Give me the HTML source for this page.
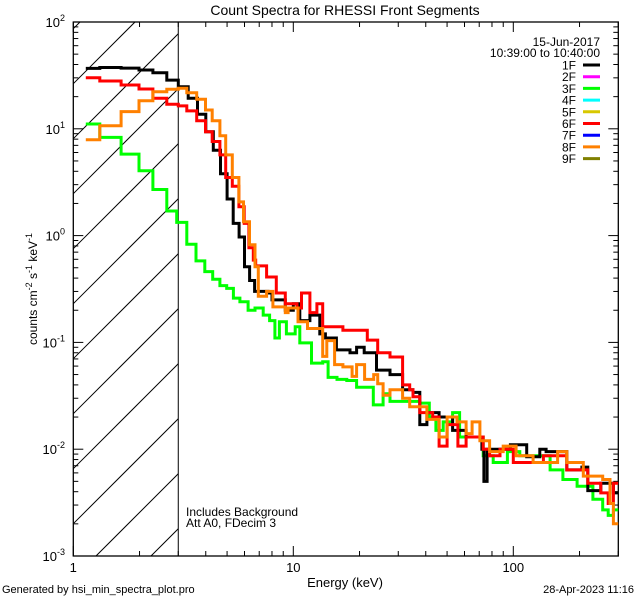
<!DOCTYPE html>
<html><head><meta charset="utf-8">
<style>
html,body{margin:0;padding:0;background:#fff;width:640px;height:600px;overflow:hidden;}
svg{display:block;font-family:"Liberation Sans",sans-serif;overflow:hidden;}
text{fill:#000;}
</style></head><body>
<svg id="chart" width="640" height="600" viewBox="0 0 640 600"></svg>
<script>
// ---- data ----
const energyTicks = [1, 10, 100];
const energyTickLabels = ["1", "10", "100"];
const countTickExps = [-3, -2, -1, 0, 1, 2];
const legendLabels = ["1F","2F","3F","4F","5F","6F","7F","8F","9F"];
const legendColors = ["#000000","#ff00ff","#00ff00","#00ffff","#d8c800","#ff0000","#0000ff","#ff8000","#808000"];
const energyMax = 300;

const e1F = [1.14,1.32,1.65,1.99,2.30,2.66,3.0,3.33,3.67,4.0,4.33,4.67,5.0,5.33,5.67,6.0,6.33,6.67,7.67,8.0,9.2,10,10.7,11.9,13.2,14,15.7,18.1,19.4,21,23.9,27.5,31.4,35,37.6,40.5,46,53,61,72,73.5,76,87,97,115,132,141,175,205,218,250,285];
const c1F = [36.8,37.5,37,35.5,33.5,28.6,24.8,19.3,13.7,9.4,6.3,3.8,2.2,1.3,0.97,0.51,0.38,0.30,0.29,0.25,0.20,0.23,0.16,0.18,0.12,0.11,0.085,0.08,0.09,0.08,0.055,0.05,0.036,0.034,0.017,0.022,0.020,0.015,0.013,0.010,0.005,0.010,0.010,0.011,0.0085,0.010,0.0095,0.0064,0.0068,0.0041,0.0048,0.0039];

const e6F = [1.14,1.32,1.65,1.99,2.30,2.66,3.0,3.28,3.64,3.99,4.28,4.64,4.93,5.28,5.66,5.98,6.28,6.58,6.75,7.56,8.37,9.2,10.4,10.9,11.9,12.8,13.6,14.8,16.8,18.7,21.7,24.2,27.5,31.4,33.8,35,37.6,43,46,50,56,61,73,78,87,100,123,137,175,218,250,270,285];
const c6F = [30,28,25.7,23.6,19.3,17,16.4,14.7,11.9,9.4,7.6,5.7,3.5,2.9,1.86,1.3,0.77,0.59,0.52,0.41,0.29,0.23,0.21,0.29,0.19,0.23,0.14,0.14,0.13,0.13,0.105,0.08,0.073,0.04,0.036,0.031,0.022,0.020,0.0107,0.017,0.0107,0.013,0.010,0.0087,0.010,0.0075,0.0075,0.0087,0.0064,0.0048,0.0039,0.0031,0.0048];

const e8F = [1.14,1.32,1.65,1.99,2.30,2.66,3.0,3.28,3.64,3.99,4.28,4.64,4.93,5.28,5.66,5.94,6.32,6.7,6.93,7.56,8.08,9.2,9.47,10.5,11.6,13.6,14.2,15.4,16.8,18.5,19.4,21.1,23.2,24.2,25.6,27.5,31.4,33.8,37.6,40.5,46,50,55.5,61,65,70.5,78,90,103,123,159,175,208,255,275,285];
const c8F = [7.9,10.7,14.5,18.3,22.2,23.5,24,21.8,18.9,15,11.9,8.6,5.7,3.5,2.07,1.35,0.82,0.51,0.27,0.30,0.215,0.19,0.21,0.156,0.135,0.074,0.104,0.062,0.059,0.048,0.062,0.045,0.05,0.041,0.032,0.036,0.03,0.025,0.025,0.019,0.013,0.020,0.018,0.014,0.018,0.012,0.0095,0.0107,0.0087,0.0075,0.0095,0.0075,0.0056,0.0052,0.0031,0.0020];

const e3F = [1.14,1.32,1.65,1.99,2.30,2.66,2.95,3.28,3.61,3.96,4.30,4.64,4.98,5.34,5.72,6.23,6.7,7.3,7.8,8.25,8.65,9.3,10.2,10.7,11.5,12.1,13.6,14.4,15.8,17.5,19.4,23.1,25.6,27.5,33,37.6,41.5,44.5,48,53,57,73,81,94,107,147,168,195,230,255,270,285];
const c3F = [11.1,8.3,5.8,4.05,2.7,1.7,1.33,0.83,0.58,0.46,0.39,0.34,0.32,0.26,0.24,0.20,0.21,0.18,0.16,0.11,0.156,0.12,0.14,0.099,0.099,0.064,0.066,0.047,0.045,0.044,0.038,0.026,0.033,0.028,0.028,0.027,0.020,0.015,0.018,0.022,0.013,0.0087,0.0075,0.0095,0.0087,0.0064,0.0052,0.0045,0.0034,0.0027,0.0024,0.0027];

// ---- layout ----
const L=73.3, R=618.3, T=22, B=556;
const NS="http://www.w3.org/2000/svg";
const svg=document.getElementById('chart');
function xs(e){return L+220*Math.log10(e);}
function ys(v){return T+(2-Math.log10(v))*106.8;}
function mk(tag,attrs,parent){const el=document.createElementNS(NS,tag);for(const k in attrs)el.setAttribute(k,attrs[k]);(parent||svg).appendChild(el);return el;}

const defs=mk('defs',{});
const cp=mk('clipPath',{id:'plotclip'},defs);
mk('rect',{x:L,y:T,width:R-L,height:B-T},cp);

// hatch lines clipped analytically (x + y = c) within [L, X3] x [T, B]
const X3=xs(3);
const hatch=mk('g',{stroke:'#000','stroke-width':1});


for(let c=157-55*3;c<B+X3;c+=55){
 let xa=Math.max(L,c-B), xb=Math.min(X3,c-T);
 if(xb<=xa)continue;
 mk('line',{x1:xa,y1:c-xa,x2:xb,y2:c-xb},hatch);
}
const vline=mk('line',{x1:X3,y1:T,x2:X3,y2:B,stroke:'#000','stroke-width':1});



const frame=mk('rect',{x:L,y:T,width:R-L,height:B-T,fill:'none',stroke:'#000','stroke-width':1.3});



const xt=mk('g',{stroke:'#000','stroke-width':1});


for(let d=1;d<=100;d*=10){for(let m=1;m<=9;m++){const e=d*m;if(e>energyMax)break;const x=xs(e);const len=m===1?10:5;
mk('line',{x1:x,y1:B,x2:x,y2:B-len},xt);mk('line',{x1:x,y1:T,x2:x,y2:T+len},xt);}}
energyTicks.forEach((e,i)=>{const t=mk('text',{x:xs(e),y:572,'text-anchor':'middle','font-size':13});t.textContent=energyTickLabels[i];

});
const yt=mk('g',{stroke:'#000','stroke-width':1});


for(let p=-3;p<2;p++){for(let m=1;m<=9;m++){const y=ys(m*Math.pow(10,p));const len=m===1?10:5;
mk('line',{x1:L,y1:y,x2:L+len,y2:y},yt);mk('line',{x1:R,y1:y,x2:R-len,y2:y},yt);}}
mk('line',{x1:L,y1:ys(100),x2:L+10,y2:ys(100)},yt);mk('line',{x1:R,y1:ys(100),x2:R-10,y2:ys(100)},yt);
countTickExps.forEach(p=>{const t=mk('text',{x:65,y:ys(Math.pow(10,p))+5,'text-anchor':'end','font-size':13});


t.textContent='10';const s=mk('tspan',{dy:-6,'font-size':9},t);s.textContent=String(p);});

function drawSeries(E,C,color,name){
 let d='';for(let i=0;i<E.length;i++){const x0=xs(E[i]);const x1=Math.min(R,xs(i+1<E.length?E[i+1]:energyMax));const y=ys(C[i]);
 d+=(i===0?'M':'L')+x0.toFixed(1)+','+y.toFixed(1)+'L'+x1.toFixed(1)+','+y.toFixed(1);}
 const p=mk('path',{d:d,fill:'none',stroke:color,'stroke-width':3,'stroke-linejoin':'miter','clip-path':'url(#plotclip)'});
 
 
}
drawSeries(e3F,c3F,'#00ff00','series-3f');
drawSeries(e1F,c1F,'#000000','series-1f');
drawSeries(e6F,c6F,'#ff0000','series-6f');
drawSeries(e8F,c8F,'#ff8000','series-8f');

const lg=mk('g',{});


const d1=mk('text',{x:600,y:46,'text-anchor':'end','font-size':12},lg);d1.textContent='15-Jun-2017';


const d2=mk('text',{x:600,y:57,'text-anchor':'end','font-size':12},lg);d2.textContent='10:39:00 to 10:40:00';


legendLabels.forEach((lab,i)=>{const y=65+i*11.7;
 const g=mk('g',{},lg);
 
 
 const t=mk('text',{x:576,y:y+4.5,'text-anchor':'end','font-size':12},g);t.textContent=lab;
 mk('line',{x1:583,y1:y,x2:600,y2:y,stroke:legendColors[i],'stroke-width':3},g);});

function txt(x,y,s,size,name,anchor){const t=mk('text',{x:x,y:y,'font-size':size,'text-anchor':anchor||'start'});t.textContent=s;

return t;}
txt(345,15,'Count Spectra for RHESSI Front Segments',14,'chart-title','middle');
txt(186,516,'Includes Background',12,'background-note');
txt(186,527,'Att A0, FDecim 3',12,'attenuator-note');
txt(345,587,'Energy (keV)',13,'x-axis-title','middle');
txt(2,593,'Generated by hsi_min_spectra_plot.pro',11,'footer-generator');
txt(634,593,'28-Apr-2023 11:16',11,'footer-date','end');
const yl=mk('text',{x:0,y:0,'font-size':12,'text-anchor':'middle',transform:'translate(37,289) rotate(-90)'});


yl.innerHTML='counts cm<tspan dy="-5" font-size="9">-2</tspan><tspan dy="5"> s</tspan><tspan dy="-5" font-size="9">-1</tspan><tspan dy="5"> keV</tspan><tspan dy="-5" font-size="9">-1</tspan>';
</script>
</body></html>
